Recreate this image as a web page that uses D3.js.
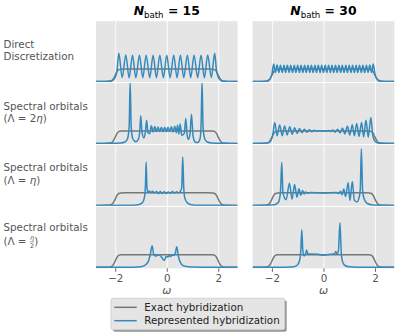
<!DOCTYPE html>
<html>
<head>
<meta charset="utf-8">
<script src="https://cdn.jsdelivr.net/npm/d3@7"></script>
<style>
  body { margin: 0; background: #fff; }
  svg { display: block; font-family: "DejaVu Sans", sans-serif; }
</style>
</head>
<body>
<svg id="svg" width="399" height="336"></svg>
<script>
// ---- data ----
const nBath = [15, 30];
const rowLabels = [
  ["Direct", "Discretization"],
  ["Spectral orbitals", "(Λ = 2η)"],
  ["Spectral orbitals", "(Λ = η)"],
  ["Spectral orbitals", "(Λ = η/2)"]
];
const xTicks = [-2, 0, 2];
const legendLabels = ["Exact hybridization", "Represented hybridization"];

// exact hybridization (same in every panel)
const exactHyb = [[-2.75,0],[-2.4,0.004],[-2.2,0.03],[-2.12,0.1],[-2.05,0.3],[-1.99,0.55],[-1.93,0.8],[-1.86,0.95],[-1.78,0.99],[-1.6,1],
  [0,1],[1.6,1],[1.78,0.99],[1.86,0.95],[1.93,0.8],[1.99,0.55],[2.05,0.3],[2.12,0.1],[2.2,0.03],[2.4,0.004],[2.75,0]];

// represented hybridization, key points (peaks / troughs) per panel
const repDirect15 = [[-2.75,0],[-2.4,0.01],[-2.2,0.04],[-2.08,0.14],[-2.0,0.35],[-1.93,0.9],[-1.86,2.25],
  [-1.73,0.32],[-1.59,2.12],[-1.46,0.31],[-1.33,2.1],[-1.2,0.31],[-1.06,2.1],[-0.93,0.31],[-0.8,2.1],[-0.66,0.31],
  [-0.53,2.1],[-0.4,0.31],[-0.27,2.1],[-0.13,0.31],[0,2.1],[0.13,0.31],[0.27,2.1],[0.4,0.31],[0.53,2.1],[0.66,0.31],
  [0.8,2.1],[0.93,0.31],[1.06,2.1],[1.2,0.31],[1.33,2.1],[1.46,0.31],[1.59,2.12],[1.73,0.32],[1.86,2.25],
  [1.93,0.9],[2.0,0.35],[2.08,0.14],[2.2,0.04],[2.4,0.01],[2.75,0]];

const repDirect30 = [[-2.75,0],[-2.4,0.01],[-2.2,0.05],[-2.08,0.2],[-2.0,0.6],[-1.93,1.4],
  [-1.87,0.72],[-1.80,1.32],[-1.73,0.72],[-1.67,1.3],[-1.60,0.72],[-1.53,1.3],[-1.47,0.72],[-1.40,1.3],[-1.33,0.72],
  [-1.27,1.3],[-1.20,0.72],[-1.13,1.3],[-1.07,0.72],[-1.00,1.3],[-0.93,0.72],[-0.87,1.3],[-0.80,0.72],[-0.73,1.3],
  [-0.67,0.72],[-0.60,1.3],[-0.53,0.72],[-0.47,1.3],[-0.40,0.72],[-0.33,1.3],[-0.27,0.72],[-0.20,1.3],[-0.13,0.72],
  [-0.07,1.3],[0,0.72],[0.07,1.3],[0.13,0.72],[0.20,1.3],[0.27,0.72],[0.33,1.3],[0.40,0.72],[0.47,1.3],[0.53,0.72],
  [0.60,1.3],[0.67,0.72],[0.73,1.3],[0.80,0.72],[0.87,1.3],[0.93,0.72],[1.00,1.3],[1.07,0.72],[1.13,1.3],[1.20,0.72],
  [1.27,1.3],[1.33,0.72],[1.40,1.3],[1.47,0.72],[1.53,1.3],[1.60,0.72],[1.67,1.3],[1.73,0.72],[1.80,1.32],[1.87,0.72],
  [1.93,1.4],[2.0,0.6],[2.08,0.2],[2.2,0.05],[2.4,0.01],[2.75,0]];

const repTwoEta15 = [[-2.75,0],[-2.1,0.01],[-1.8,0.04],[-1.62,0.12],[-1.52,0.4],[-1.46,1.3],[-1.42,4.95],[-1.38,1.3],
  [-1.32,0.4],[-1.2,0.14],[-1.1,0.35],[-1.05,0.9],[-1.01,2.2],[-0.96,0.9],[-0.89,0.45],[-0.83,0.9],[-0.78,1.86],
  [-0.73,0.85],[-0.66,0.8],[-0.6,1.42],[-0.53,0.92],[-0.465,1.35],[-0.4,0.95],[-0.34,1.32],[-0.275,0.96],[-0.21,1.3],
  [-0.145,0.96],[-0.08,1.3],[-0.015,0.96],[0.05,1.3],[0.115,0.95],[0.18,1.33],[0.245,0.92],[0.31,1.38],[0.37,0.85],
  [0.42,1.45],[0.47,0.75],[0.52,1.55],[0.58,0.65],[0.68,0.8],[0.74,2.0],[0.79,0.7],[0.84,0.32],[0.9,0.7],[0.96,2.32],
  [1.02,0.6],[1.1,0.12],[1.2,0.07],[1.29,0.35],[1.33,1.3],[1.37,4.95],[1.41,1.3],[1.47,0.4],[1.57,0.12],[1.75,0.04],
  [2.1,0.01],[2.75,0]];

const repTwoEta30 = [[-2.75,0],[-2.3,0.01],[-2.15,0.05],[-2.05,0.2],[-1.97,0.65],[-1.89,1.67],[-1.8,0.6],[-1.70,1.47],
  [-1.6,0.62],[-1.51,1.4],[-1.41,0.68],[-1.31,1.33],[-1.21,0.74],[-1.12,1.26],[-1.02,0.8],[-0.93,1.2],[-0.83,0.86],
  [-0.74,1.14],[-0.64,0.9],[-0.55,1.09],[-0.45,0.94],[-0.36,1.05],[-0.26,0.97],[-0.17,1.02],[-0.07,0.99],[0.02,1.01],
  [0.12,0.98],[0.2,1.04],[0.28,0.95],[0.36,1.08],[0.45,0.9],[0.55,1.14],[0.64,0.84],[0.74,1.24],[0.83,0.76],[0.93,1.38],
  [1.02,0.68],[1.12,1.5],[1.2,0.62],[1.29,1.6],[1.38,0.56],[1.48,1.68],[1.56,0.52],[1.65,1.85],[1.74,0.5],[1.84,2.08],
  [1.91,0.7],[1.98,0.25],[2.08,0.06],[2.3,0.01],[2.75,0]];

const repEta15 = [[-2.75,0],[-1.5,0.01],[-1.1,0.06],[-0.95,0.2],[-0.87,0.6],[-0.83,1.4],[-0.8,3.45],[-0.77,1.5],
  [-0.73,1.0],[-0.68,1.15],[-0.62,1.0],[-0.55,1.12],[-0.48,0.98],[-0.4,1.1],[-0.32,0.95],[-0.25,1.1],[-0.18,0.95],
  [-0.1,1.08],[-0.02,0.94],[0.06,1.06],[0.14,0.96],[0.22,1.1],[0.3,0.98],[0.38,1.08],[0.45,1.0],[0.52,1.1],[0.58,1.4],
  [0.62,3.85],[0.66,1.4],[0.7,0.6],[0.8,0.2],[0.95,0.06],[1.3,0.01],[2.75,0]];

const repEta30 = [[-2.75,0],[-2.2,0.01],[-1.9,0.05],[-1.75,0.25],[-1.67,1.0],[-1.62,3.42],[-1.57,1.0],[-1.45,0.45],
  [-1.32,1.76],[-1.22,0.5],[-1.12,1.66],[-1.03,0.65],[-0.95,1.32],[-0.88,0.8],[-0.81,1.18],[-0.75,0.9],[-0.7,1.06],
  [-0.62,0.97],[-0.5,1.02],[-0.2,1.0],[0,0.98],[0.2,1.0],[0.5,1.02],[0.6,0.95],[0.66,1.12],[0.72,0.85],[0.79,1.3],
  [0.86,0.7],[0.96,1.8],[1.03,0.4],[1.12,1.9],[1.2,0.4],[1.3,0.28],[1.38,0.6],[1.43,1.3],[1.47,4.5],[1.52,1.2],
  [1.58,0.5],[1.7,0.15],[1.9,0.04],[2.2,0.01],[2.75,0]];

const repHalfEta15 = [[-2.75,0],[-1.3,0.01],[-1.0,0.05],[-0.85,0.15],[-0.72,0.45],[-0.64,1.0],[-0.57,1.72],[-0.5,1.0],
  [-0.42,0.9],[-0.3,1.0],[-0.2,0.8],[-0.1,0.55],[-0.02,0.85],[0.05,0.82],[0.1,0.95],[0.15,0.86],[0.22,0.98],[0.28,0.95],
  [0.33,1.1],[0.39,1.64],[0.45,0.9],[0.55,0.3],[0.7,0.08],[1.0,0.02],[2.75,0]];

const repHalfEta30 = [[-2.75,0],[-1.5,0.01],[-1.15,0.05],[-1.0,0.2],[-0.92,0.6],[-0.88,1.3],[-0.84,3.0],[-0.8,1.3],
  [-0.75,0.9],[-0.69,1.1],[-0.65,1.38],[-0.61,1.05],[-0.5,1.05],[-0.2,1.03],[-0.05,0.96],[0.05,0.97],[0.2,1.02],
  [0.4,1.05],[0.45,1.15],[0.48,1.25],[0.52,1.05],[0.58,1.3],[0.64,3.55],[0.69,1.2],[0.75,0.4],[0.85,0.12],[1.0,0.04],
  [1.3,0.01],[2.75,0]];

const panelRows = [
  [repDirect15, repDirect30],
  [repTwoEta15, repTwoEta30],
  [repEta15, repEta30],
  [repHalfEta15, repHalfEta30]
];

// ---- layout ----
const svg = d3.select("#svg");
const colRange = [[95.9, 237.6], [252.6, 394.3]];
const top0 = 20.7, rowH = 61.9;
const bg = "#E5E5E5", grey = "#777777", blue = "#348ABD", txt = "#555555";

const xScales = colRange.map((r) => d3.scaleLinear().domain([-2.75, 2.75]).range(r));
const rowTop = (i) => top0 + i * rowH;
const yScales = panelRows.map((_, i) =>
  d3.scaleLinear().domain([-0.08, 4.85]).range([rowTop(i) + rowH, rowTop(i)]));

const defs = svg.append("defs");

panelRows.forEach((pair, i) => {
  const y = yScales[i];
  pair.forEach((rep, j) => {
    const x = xScales[j];
    const [x0, x1] = colRange[j];
    const id = `clip-${i}-${j}`;
    defs.append("clipPath").attr("id", id)
      .append("rect").attr("x", x0).attr("y", rowTop(i)).attr("width", x1 - x0).attr("height", rowH);

    const g = svg.append("g").attr("class", "panel");
    g.append("rect")
      .attr("x", x0).attr("y", rowTop(i))
      .attr("width", x1 - x0).attr("height", rowH)
      .attr("fill", bg);

    // vertical grid lines
    g.append("g")
      .attr("transform", `translate(0,${rowTop(i) + rowH})`)
      .call(d3.axisBottom(x).tickValues(xTicks).tickSize(-rowH).tickFormat(""))
      .call((a) => a.select(".domain").remove())
      .call((a) => a.selectAll("line").attr("stroke", "#fff").attr("stroke-width", 0.9));

    const line = d3.line()
      .x((d) => x(d[0]))
      .y((d) => y(d[1]))
      .curve(d3.curveMonotoneX);

    const lines = g.append("g").attr("clip-path", `url(#${id})`);
    lines.append("path").datum(exactHyb)
      .attr("d", line).attr("fill", "none")
      .attr("stroke", grey).attr("stroke-width", 1.5).attr("stroke-linejoin", "round");
    lines.append("path").datum(rep)
      .attr("d", line).attr("fill", "none")
      .attr("stroke", blue).attr("stroke-width", 1.5).attr("stroke-linejoin", "round");

    // white spines between rows
    g.append("line")
      .attr("x1", x0).attr("x2", x1)
      .attr("y1", rowTop(i)).attr("y2", rowTop(i))
      .attr("stroke", "#fff").attr("stroke-width", 1);
  });

  // row label
  const cy = rowTop(i) + rowH / 2;
  const lab = rowLabels[i];
  const base1 = i === 3 ? cy - 6 : cy - 4;
  svg.append("text")
    .attr("x", 3.5).attr("y", base1)
    .attr("fill", txt).style("font-size", "10.3px")
    .text(lab[0]);
  const gap = i === 3 ? 13.5 : 12.2;
  const by = base1 + gap;
  const t2 = svg.append("text")
    .attr("x", 3.5).attr("y", by)
    .attr("fill", txt).style("font-size", "10.3px");
  if (i === 0) {
    t2.text(lab[1]);
  } else if (i < 3) {
    const m = lab[1].match(/^\((.*?)(2?η)\)$/);
    t2.append("tspan").text("(" + m[1]);
    if (m[2].length > 1) t2.append("tspan").text("2");
    t2.append("tspan").style("font-style", "italic").text("η");
    t2.append("tspan").text(")");
  } else {
    // (Λ = η/2) with a small stacked fraction
    t2.append("tspan").text("(Λ =");
    const w = t2.node().getComputedTextLength();
    const fx = 3.5 + w + 3.4;
    t2.append("tspan").attr("x", fx + 4.4).text(")");
    const fr = svg.append("g").attr("fill", txt).style("font-size", "6.4px");
    fr.append("text").attr("x", fx + 2.1).attr("y", by - 4.5)
      .attr("text-anchor", "middle").style("font-style", "italic").text("η");
    fr.append("text").attr("x", fx + 2.1).attr("y", by + 3.4)
      .attr("text-anchor", "middle").text("2");
    svg.append("line").attr("x1", fx).attr("x2", fx + 4.2)
      .attr("y1", by - 3.1).attr("y2", by - 3.1)
      .attr("stroke", txt).attr("stroke-width", 0.5);
  }
});

// column titles
nBath.forEach((n, j) => {
  const [x0, x1] = colRange[j];
  const t = svg.append("text")
    .attr("x", (x0 + x1) / 2).attr("y", 15.3)
    .attr("text-anchor", "middle").attr("fill", "#000")
    .style("font-size", "12.4px");
  t.append("tspan").style("font-weight", "bold").style("font-style", "italic").text("N");
  t.append("tspan").attr("dy", 2.6).style("font-size", "8.6px").text("bath");
  t.append("tspan").attr("dy", -2.6).style("font-weight", "bold").text(" = " + n);
});

// bottom x axes
const bottom = rowTop(4);
xScales.forEach((x, j) => {
  svg.append("g")
    .attr("transform", `translate(0,${bottom})`)
    .call(d3.axisBottom(x).tickValues(xTicks).tickSize(3.5).tickPadding(2.7)
      .tickFormat((d) => (d < 0 ? "\u2212" + Math.abs(d) : d)))
    .call((a) => a.select(".domain").remove())
    .call((a) => a.selectAll("line").attr("stroke", txt).attr("stroke-width", 0.9))
    .call((a) => a.selectAll("text").attr("fill", txt)
      .style("font-size", "10.3px").style("font-family", "DejaVu Sans"));

  svg.append("text")
    .attr("x", x(0)).attr("y", 294)
    .attr("text-anchor", "middle").attr("fill", txt)
    .style("font-size", "10.8px").style("font-style", "italic")
    .text("ω");
});

// legend
const leg = svg.append("g").attr("transform", "translate(111,298.3)");
leg.append("rect").attr("x", 2).attr("y", 2).attr("width", 173.7).attr("height", 31.4)
  .attr("rx", 2).attr("fill", "rgba(0,0,0,0.42)");
leg.append("rect").attr("width", 173.7).attr("height", 31.4)
  .attr("rx", 2).attr("fill", bg).attr("stroke", "#cccccc").attr("stroke-width", 0.8);
[grey, blue].forEach((c, k) => {
  const yy = 9 + k * 13.4;
  leg.append("line").attr("x1", 3.3).attr("x2", 25.7).attr("y1", yy).attr("y2", yy)
    .attr("stroke", c).attr("stroke-width", 1.5);
  leg.append("text").attr("x", 33.3).attr("y", yy + 3.7)
    .attr("fill", "#222").style("font-size", "10.3px").text(legendLabels[k]);
});
</script>
</body>
</html>
